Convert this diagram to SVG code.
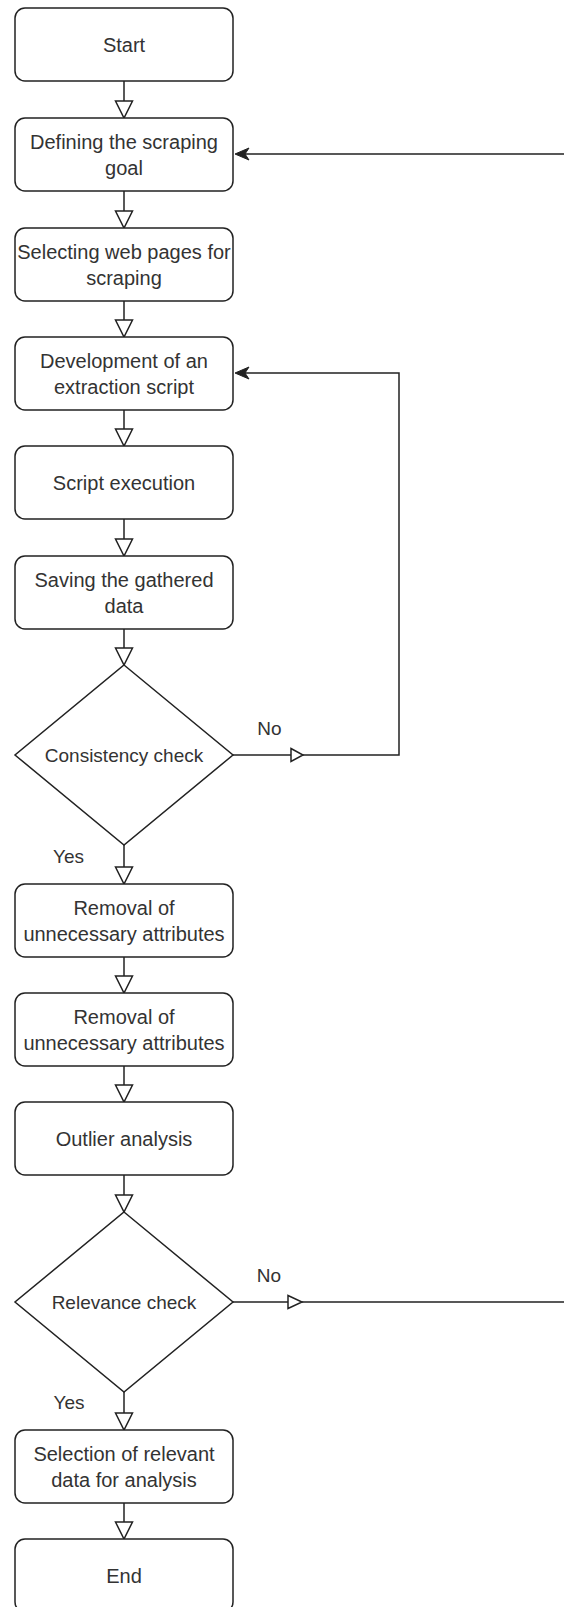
<svg xmlns="http://www.w3.org/2000/svg" width="564" height="1607" viewBox="0 0 564 1607">
<style>
.box{fill:#fff;stroke:#222;stroke-width:1.5}
.t{font-family:"Liberation Sans",Arial,sans-serif;font-size:20px;fill:#333;text-anchor:middle}
.d{font-size:19px}
.lbl{font-family:"Liberation Sans",Arial,sans-serif;font-size:19px;fill:#333;text-anchor:middle}
.ln{fill:none;stroke:#222;stroke-width:1.5}
.oa{fill:#fff;stroke:#222;stroke-width:1.5;stroke-linejoin:miter}
.fa{fill:#222;stroke:#222;stroke-width:1}
</style>
<rect width="564" height="1607" fill="#fff"/>
<g id="connectors">
  <!-- vertical flow arrows -->
  <path class="ln" d="M124,81 V101"/><polygon class="oa" points="115.5,101 132.5,101 124,118"/>
  <path class="ln" d="M124,191 V211"/><polygon class="oa" points="115.5,211 132.5,211 124,228"/>
  <path class="ln" d="M124,301 V320"/><polygon class="oa" points="115.5,320 132.5,320 124,337"/>
  <path class="ln" d="M124,410 V429"/><polygon class="oa" points="115.5,429 132.5,429 124,446"/>
  <path class="ln" d="M124,519 V539"/><polygon class="oa" points="115.5,539 132.5,539 124,556"/>
  <path class="ln" d="M124,629 V648"/><polygon class="oa" points="115.5,648 132.5,648 124,665"/>
  <path class="ln" d="M124,845 V867"/><polygon class="oa" points="115.5,867 132.5,867 124,884"/>
  <path class="ln" d="M124,957 V976"/><polygon class="oa" points="115.5,976 132.5,976 124,993"/>
  <path class="ln" d="M124,1066 V1085"/><polygon class="oa" points="115.5,1085 132.5,1085 124,1102"/>
  <path class="ln" d="M124,1175 V1195"/><polygon class="oa" points="115.5,1195 132.5,1195 124,1212"/>
  <path class="ln" d="M124,1392 V1413"/><polygon class="oa" points="115.5,1413 132.5,1413 124,1430"/>
  <path class="ln" d="M124,1503 V1522"/><polygon class="oa" points="115.5,1522 132.5,1522 124,1539"/>
  <!-- consistency No loop -->
  <path class="ln" d="M233,755 H291"/>
  <polygon class="oa" points="291,748.5 303,755 291,761.5"/>
  <path class="ln" d="M303,755 H399 V373 H245"/>
  <path class="fa" d="M235,373 L249,367 L245,373 L249,379 Z"/>
  <!-- relevance No loop -->
  <path class="ln" d="M233,1302 H288"/>
  <polygon class="oa" points="288,1295.5 302,1302 288,1308.5"/>
  <path class="ln" d="M302,1302 H600 V154 H245"/>
  <path class="fa" d="M235,154 L249,148 L245,154 L249,160 Z"/>
  <!-- labels -->
  <text class="lbl" x="269.5" y="735">No</text>
  <text class="lbl" x="68.5" y="863">Yes</text>
  <text class="lbl" x="269" y="1282">No</text>
  <text class="lbl" x="69" y="1409">Yes</text>
</g>
<g id="start"><rect class="box" x="15" y="8" width="218" height="73" rx="10"/><text class="t" x="124" y="51.5">Start</text></g>
<g id="define-goal"><rect class="box" x="15" y="118" width="218" height="73" rx="10"/><text class="t" x="124" y="148.5">Defining the scraping</text><text class="t" x="124" y="174.5">goal</text></g>
<g id="select-pages"><rect class="box" x="15" y="228" width="218" height="73" rx="10"/><text class="t" x="124" y="258.5">Selecting web pages for</text><text class="t" x="124" y="284.5">scraping</text></g>
<g id="develop-script"><rect class="box" x="15" y="337" width="218" height="73" rx="10"/><text class="t" x="124" y="367.5">Development of an</text><text class="t" x="124" y="393.5">extraction script</text></g>
<g id="script-execution"><rect class="box" x="15" y="446" width="218" height="73" rx="10"/><text class="t" x="124" y="489.5">Script execution</text></g>
<g id="save-data"><rect class="box" x="15" y="556" width="218" height="73" rx="10"/><text class="t" x="124" y="586.5">Saving the gathered</text><text class="t" x="124" y="612.5">data</text></g>
<g id="consistency-check"><polygon class="box" points="124,665 233,755 124,845 15,755"/><text class="t d" x="124" y="762">Consistency check</text></g>
<g id="removal-1"><rect class="box" x="15" y="884" width="218" height="73" rx="10"/><text class="t" x="124" y="914.5">Removal of</text><text class="t" x="124" y="940.5">unnecessary attributes</text></g>
<g id="removal-2"><rect class="box" x="15" y="993" width="218" height="73" rx="10"/><text class="t" x="124" y="1023.5">Removal of</text><text class="t" x="124" y="1049.5">unnecessary attributes</text></g>
<g id="outlier-analysis"><rect class="box" x="15" y="1102" width="218" height="73" rx="10"/><text class="t" x="124" y="1145.5">Outlier analysis</text></g>
<g id="relevance-check"><polygon class="box" points="124,1212 233,1302 124,1392 15,1302"/><text class="t d" x="124" y="1309">Relevance check</text></g>
<g id="select-relevant"><rect class="box" x="15" y="1430" width="218" height="73" rx="10"/><text class="t" x="124" y="1460.5">Selection of relevant</text><text class="t" x="124" y="1486.5">data for analysis</text></g>
<g id="end"><rect class="box" x="15" y="1539" width="218" height="73" rx="10"/><text class="t" x="124" y="1582.5">End</text></g>
</svg>
